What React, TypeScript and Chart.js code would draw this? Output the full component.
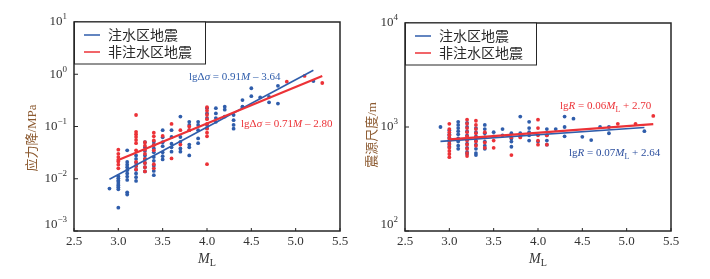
import React, { useEffect, useRef } from 'react';
import { Chart, registerables } from 'chart.js';
Chart.register(...registerables);

const BLUE = '#2f5dab';
const RED = '#ec3237';
const SERIF = '"Liberation Serif", "DejaVu Serif", serif';
const CJK = '"Liberation Serif", "Noto Sans CJK SC", serif';

// ---------- Left panel: stress drop (MPa) ----------
const stressBlueM = [
  2.9,
  3.0, 3.0, 3.0, 3.0, 3.0, 3.0, 3.0, 3.0, 3.0,
  3.1, 3.1, 3.1, 3.1, 3.1, 3.1, 3.1, 3.1, 3.1, 3.1,
  3.2, 3.2, 3.2, 3.2, 3.2, 3.2, 3.2, 3.2,
  3.3, 3.3, 3.3, 3.3, 3.3, 3.3, 3.3, 3.3,
  3.4, 3.4, 3.4, 3.4, 3.4, 3.4, 3.4, 3.4, 3.4,
  3.5, 3.5, 3.5, 3.5, 3.5, 3.5, 3.5,
  3.6, 3.6, 3.6, 3.6, 3.6,
  3.7, 3.7, 3.7, 3.7, 3.7,
  3.8, 3.8, 3.8, 3.8, 3.8, 3.8,
  3.9, 3.9, 3.9, 3.9, 3.9,
  4.0, 4.0, 4.0, 4.0, 4.0,
  4.1, 4.1, 4.1, 4.1,
  4.2, 4.2, 4.2,
  4.3, 4.3, 4.3, 4.3,
  4.4, 4.4, 4.4,
  4.5, 4.5,
  4.6,
  4.7, 4.7,
  4.8, 4.8,
  5.2,
];
const stressBlueMPa = [
  0.0065,
  0.0112, 0.0102, 0.0093, 0.0087, 0.0079, 0.0074, 0.0069, 0.0063, 0.0028,
  0.035, 0.021, 0.0186, 0.0166, 0.0145, 0.0126, 0.011, 0.0095, 0.0055, 0.005,
  0.028, 0.024, 0.0204, 0.0174, 0.0148, 0.0126, 0.0107, 0.0091,
  0.05, 0.04, 0.034, 0.028, 0.024, 0.02, 0.0166, 0.0138,
  0.051, 0.045, 0.038, 0.032, 0.026, 0.022, 0.0178, 0.0141, 0.0117,
  0.085, 0.062, 0.05, 0.042, 0.032, 0.027, 0.0234,
  0.085, 0.063, 0.047, 0.04, 0.033,
  0.155, 0.063, 0.051, 0.038, 0.033,
  0.123, 0.107, 0.085, 0.045, 0.04, 0.028,
  0.123, 0.107, 0.085, 0.059, 0.048,
  0.224, 0.178, 0.145, 0.107, 0.093,
  0.224, 0.178, 0.145, 0.123,
  0.24, 0.21, 0.155,
  0.166, 0.132, 0.107, 0.091,
  0.24, 0.235, 0.32,
  0.54, 0.38,
  0.36,
  0.37, 0.29,
  0.6, 0.275,
  0.74,
];
const stressRedM = [
  3.0, 3.0, 3.0, 3.0, 3.0, 3.0, 3.0,
  3.2, 3.2, 3.2, 3.2, 3.2, 3.2, 3.2, 3.2, 3.2, 3.2,
  3.3, 3.3, 3.3, 3.3, 3.3, 3.3, 3.3, 3.3,
  3.4, 3.4, 3.4, 3.4, 3.4, 3.4, 3.4,
  3.5,
  3.6, 3.6,
  3.7, 3.7,
  3.8, 3.8,
  4.0, 4.0, 4.0, 4.0, 4.0, 4.0, 4.0, 4.0, 4.0,
  4.9, 5.1, 5.3,
];
const stressRedMPa = [
  0.036, 0.03, 0.026, 0.023, 0.0214, 0.0186, 0.0158,
  0.166, 0.079, 0.071, 0.063, 0.055, 0.048, 0.035, 0.021, 0.0178, 0.0151,
  0.05, 0.043, 0.036, 0.03, 0.024, 0.02, 0.0166, 0.0138,
  0.076, 0.065, 0.054, 0.044, 0.035, 0.019, 0.0158,
  0.066,
  0.112, 0.0245,
  0.085, 0.045,
  0.1, 0.085,
  0.234, 0.2, 0.166, 0.138, 0.112, 0.091, 0.076, 0.065, 0.019,
  0.72, 0.93, 0.68,
];
const stressBlueFitM = [2.9, 5.2];
const stressBlueFitMPa = [0.0098, 1.19];
const stressRedFitM = [3.0, 5.3];
const stressRedFitMPa = [0.0229, 0.927];

// ---------- Right panel: source size (m) ----------
const sizeBlueM = [
  2.9,
  3.0, 3.0, 3.0, 3.0, 3.0, 3.0,
  3.1, 3.1, 3.1, 3.1, 3.1, 3.1, 3.1, 3.1, 3.1,
  3.2, 3.2, 3.2, 3.2, 3.2, 3.2, 3.2, 3.2, 3.2,
  3.3, 3.3, 3.3, 3.3, 3.3, 3.3, 3.3, 3.3,
  3.4, 3.4, 3.4, 3.4, 3.4, 3.4, 3.4,
  3.5, 3.5,
  3.6, 3.6,
  3.7, 3.7, 3.7, 3.7,
  3.8, 3.8, 3.8,
  3.9, 3.9, 3.9, 3.9, 3.9,
  4.0,
  4.1, 4.1, 4.1, 4.1,
  4.2,
  4.3, 4.3, 4.3,
  4.4,
  4.5,
  4.6,
  4.7,
  4.8, 4.8,
  5.2,
];
const sizeBlueMeters = [
  1000,
  933, 851, 794, 741, 692, 646,
  1122, 1047, 977, 912, 851, 776, 724, 661, 617,
  1096, 1000, 912, 832, 759, 692, 631, 575, 550,
  977, 891, 813, 741, 676, 617, 562, 537,
  1047, 955, 871, 794, 724, 661, 617,
  891, 813,
  955, 832,
  871, 776, 724, 646,
  1259, 871, 813,
  1122, 977, 891, 832, 741,
  724,
  955, 832, 741, 676,
  955,
  1259, 1000, 813,
  1202,
  804,
  748,
  1000,
  871, 1000,
  912,
];
const sizeRedM = [
  3.0, 3.0, 3.0, 3.0, 3.0, 3.0, 3.0, 3.0, 3.0, 3.0, 3.0,
  3.2, 3.2, 3.2, 3.2, 3.2, 3.2, 3.2, 3.2, 3.2, 3.2,
  3.3, 3.3, 3.3, 3.3, 3.3, 3.3, 3.3,
  3.4, 3.4, 3.4, 3.4,
  3.5, 3.5,
  3.7, 3.7,
  3.8,
  4.0, 4.0, 4.0, 4.0, 4.0,
  4.1, 4.1,
  4.9, 5.1, 5.3,
];
const sizeRedMeters = [
  1072, 955, 891, 832, 776, 724, 676, 631, 589, 550, 513,
  1175, 1072, 977, 891, 813, 741, 676, 617, 562, 525,
  1148, 1047, 955, 871, 794, 724, 661,
  891, 794, 708, 631,
  741, 631,
  537, 794,
  794,
  1175, 977, 832, 741, 676,
  832, 676,
  1072, 1072, 1279,
];
const sizeBlueFitM = [2.9, 5.2];
const sizeBlueFitMeters = [728, 989];
const sizeRedFitM = [3.0, 5.3];
const sizeRedFitMeters = [759, 1064];

// ---------- Axis / text ----------
const xTickValues = [2.5, 3.0, 3.5, 4.0, 4.5, 5.0, 5.5];
const stressYExponents = [1, 0, -1, -2, -3];
const sizeYExponents = [4, 3, 2];
const legendLabels = ['注水区地震', '非注水区地震'];
const stressTitle = '应力降/MPa';
const sizeTitle = '震源尺度/m';

type Seg = { t: string; it?: boolean; sub?: boolean };
const stressBlueEq: Seg[] = [{ t: 'lgΔ' }, { t: 'σ', it: true }, { t: ' = 0.91' }, { t: 'M', it: true }, { t: ' – 3.64' }];
const stressRedEq: Seg[] = [{ t: 'lgΔ' }, { t: 'σ', it: true }, { t: ' = 0.71' }, { t: 'M', it: true }, { t: ' – 2.80' }];
const sizeRedEq: Seg[] = [{ t: 'lg' }, { t: 'R', it: true }, { t: ' = 0.06' }, { t: 'M', it: true }, { t: 'L', sub: true }, { t: ' + 2.70' }];
const sizeBlueEq: Seg[] = [{ t: 'lg' }, { t: 'R', it: true }, { t: ' = 0.07' }, { t: 'M', it: true }, { t: 'L', sub: true }, { t: ' + 2.64' }];

function pts(xs: number[], ys: number[]) {
  return xs.map((x, i) => ({ x, y: ys[i] }));
}

function drawRich(ctx: CanvasRenderingContext2D, segs: Seg[], x: number, y: number, size: number, color: string, align: 'left' | 'center' = 'left') {
  const fontOf = (s: Seg) => `${s.it ? 'italic ' : ''}${s.sub ? size * 0.72 : size}px ${SERIF}`;
  let total = 0;
  for (const s of segs) {
    ctx.font = fontOf(s);
    total += ctx.measureText(s.t).width;
  }
  let cx = align === 'center' ? x - total / 2 : x;
  ctx.fillStyle = color;
  ctx.textBaseline = 'middle';
  ctx.textAlign = 'left';
  for (const s of segs) {
    ctx.font = fontOf(s);
    ctx.fillText(s.t, cx, y + (s.sub ? size * 0.32 : 0));
    cx += ctx.measureText(s.t).width;
  }
}

interface PanelCfg {
  yExps: number[];
  yTitle: string;
  yTitleX: number;
  yTitleY: number;
  eqs: { segs: Seg[]; x: number; y: number; color: string }[];
}

function makeDecor(cfg: PanelCfg) {
  return {
    id: 'decor',
    afterDraw(chart: any) {
      const ctx: CanvasRenderingContext2D = chart.ctx;
      const a = chart.chartArea;
      const xs = chart.scales.x;
      const ys = chart.scales.y;
      ctx.save();
      // frame
      ctx.strokeStyle = '#262626';
      ctx.lineWidth = 1.5;
      ctx.strokeRect(a.left, a.top, a.right - a.left, a.bottom - a.top);
      // x ticks
      ctx.lineWidth = 1;
      ctx.fillStyle = '#333';
      for (const v of xTickValues) {
        const px = xs.getPixelForValue(v);
        ctx.beginPath();
        ctx.moveTo(px, a.bottom);
        ctx.lineTo(px, a.bottom - 3);
        ctx.stroke();
        ctx.font = `13px ${SERIF}`;
        ctx.textAlign = 'center';
        ctx.textBaseline = 'middle';
        ctx.fillStyle = '#333';
        ctx.fillText(v.toFixed(1), px, a.bottom + 11);
      }
      // y ticks
      for (const e of cfg.yExps) {
        const py = ys.getPixelForValue(Math.pow(10, e));
        ctx.beginPath();
        ctx.moveTo(a.left, py);
        ctx.lineTo(a.left + 4, py);
        ctx.stroke();
        const sup = e < 0 ? '−' + Math.abs(e) : String(e);
        ctx.font = `13px ${SERIF}`;
        const w10 = ctx.measureText('10').width;
        ctx.font = `9px ${SERIF}`;
        const ws = ctx.measureText(sup).width;
        const right = a.left - 7;
        const ly = e === cfg.yExps[cfg.yExps.length - 1] ? py - 6 : py;
        ctx.textAlign = 'left';
        ctx.textBaseline = 'middle';
        ctx.fillStyle = '#333';
        ctx.font = `13px ${SERIF}`;
        ctx.fillText('10', right - w10 - ws, ly);
        ctx.font = `9px ${SERIF}`;
        ctx.fillText(sup, right - ws, ly - 5);
      }
      // x title
      const cx = (a.left + a.right) / 2;
      drawRich(ctx, [{ t: 'M', it: true }, { t: 'L', sub: true }], cx, a.bottom + 28, 14, '#333', 'center');
      // y title
      ctx.save();
      ctx.translate(cfg.yTitleX, cfg.yTitleY);
      ctx.rotate(-Math.PI / 2);
      ctx.font = `13px ${CJK}`;
      ctx.fillStyle = '#8c5a30';
      ctx.textAlign = 'center';
      ctx.textBaseline = 'middle';
      ctx.fillText(cfg.yTitle, 0, 0);
      ctx.restore();
      // legend
      ctx.fillStyle = '#fff';
      ctx.fillRect(a.left, a.top, 131, 42);
      ctx.strokeStyle = '#262626';
      ctx.lineWidth = 1;
      ctx.strokeRect(a.left + 0.5, a.top, 131, 42);
      const colors = [BLUE, RED];
      legendLabels.forEach((lab, i) => {
        const ly = a.top + 13 + i * 17;
        ctx.strokeStyle = colors[i];
        ctx.lineWidth = 1.5;
        ctx.beginPath();
        ctx.moveTo(a.left + 10, ly);
        ctx.lineTo(a.left + 26, ly);
        ctx.stroke();
        ctx.font = `14px "Noto Sans CJK SC", sans-serif`;
        ctx.fillStyle = '#2a2a2a';
        ctx.textAlign = 'left';
        ctx.textBaseline = 'middle';
        ctx.fillText(lab, a.left + 34, ly);
      });
      // equations
      for (const q of cfg.eqs) drawRich(ctx, q.segs, q.x, q.y, 11, q.color);
      ctx.restore();
    },
  };
}

function buildChart(
  canvas: HTMLCanvasElement,
  blue: { x: number; y: number }[],
  red: { x: number; y: number }[],
  blueFit: { x: number; y: number }[],
  redFit: { x: number; y: number }[],
  yMin: number,
  yMax: number,
  padding: any,
  cfg: PanelCfg
) {
  return new Chart(canvas, {
    type: 'scatter',
    data: {
      datasets: [
        { type: 'line', data: redFit, borderColor: RED, borderWidth: 2.2, pointRadius: 0, order: 0 } as any,
        { type: 'line', data: blueFit, borderColor: BLUE, borderWidth: 1.6, pointRadius: 0, order: 1 } as any,
        { data: red, backgroundColor: RED, pointRadius: 1.9, pointBorderWidth: 0, order: 2 },
        { data: blue, backgroundColor: BLUE, pointRadius: 1.9, pointBorderWidth: 0, order: 3 },
      ],
    },
    options: {
      responsive: false,
      animation: false,
      devicePixelRatio: 1,
      layout: { padding },
      plugins: { legend: { display: false }, tooltip: { enabled: false } },
      scales: {
        x: { type: 'linear', min: 2.5, max: 5.5, display: false },
        y: { type: 'logarithmic', min: yMin, max: yMax, display: false },
      },
    },
    plugins: [makeDecor(cfg)],
  } as any);
}

export default function App() {
  const leftRef = useRef<HTMLCanvasElement>(null);
  const rightRef = useRef<HTMLCanvasElement>(null);
  useEffect(() => {
    const c1 = buildChart(
      leftRef.current!,
      pts(stressBlueM, stressBlueMPa),
      pts(stressRedM, stressRedMPa),
      pts(stressBlueFitM, stressBlueFitMPa),
      pts(stressRedFitM, stressRedFitMPa),
      1e-3,
      10,
      { left: 74, right: 15, top: 22, bottom: 48 },
      {
        yExps: stressYExponents,
        yTitle: stressTitle,
        yTitleX: 33,
        yTitleY: 138,
        eqs: [
          { segs: stressBlueEq, x: 189, y: 77, color: BLUE },
          { segs: stressRedEq, x: 241, y: 124, color: RED },
        ],
      }
    );
    const c2 = buildChart(
      rightRef.current!,
      pts(sizeBlueM, sizeBlueMeters),
      pts(sizeRedM, sizeRedMeters),
      pts(sizeBlueFitM, sizeBlueFitMeters),
      pts(sizeRedFitM, sizeRedFitMeters),
      100,
      10000,
      { left: 50, right: 39, top: 23, bottom: 48 },
      {
        yExps: sizeYExponents,
        yTitle: sizeTitle,
        yTitleX: 18,
        yTitleY: 135,
        eqs: [
          { segs: sizeRedEq, x: 205, y: 106, color: RED },
          { segs: sizeBlueEq, x: 214, y: 153, color: '#2c4f9e' },
        ],
      }
    );
    return () => {
      c1.destroy();
      c2.destroy();
    };
  }, []);
  return (
    <div style={{ position: 'absolute', left: 0, top: 0, width: 710, height: 279, background: '#fff' }}>
      <canvas ref={leftRef} width={355} height={279} style={{ position: 'absolute', left: 0, top: 0 }} />
      <canvas ref={rightRef} width={355} height={279} style={{ position: 'absolute', left: 355, top: 0 }} />
    </div>
  );
}
